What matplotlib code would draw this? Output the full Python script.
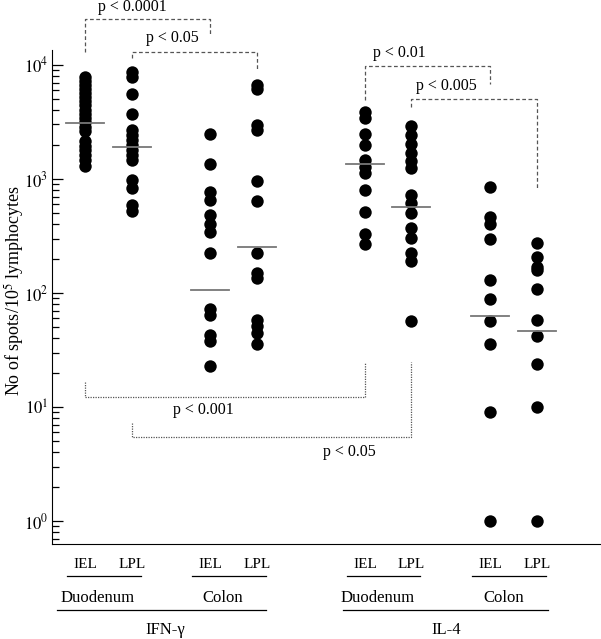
import matplotlib.pyplot as plt
import numpy as np

plt.rcParams['font.family'] = ['Liberation Serif', 'DejaVu Serif']
plt.rcParams['mathtext.fontset'] = 'stix'

# x positions of the eight columns
pos = [1, 2, 3.66, 4.66, 6.96, 7.94, 9.62, 10.62]

ifn_duo_iel = [7850, 7240, 6680, 6160, 5680, 5240, 4830, 4460, 4030, 3720,
               3430, 3160, 2860, 2640, 2150, 1950, 1800, 1620, 1470, 1300]
ifn_duo_lpl = [8730, 7890, 5530, 3700, 2690, 2430, 2200, 1990, 1800, 1620,
               1470, 980, 830, 590, 520]
ifn_col_iel = [2480, 1345, 774, 654, 483, 403, 345, 223, 73, 64, 43, 38, 23]
ifn_col_lpl = [6600, 6200, 2980, 2700, 960, 640, 225, 150, 135, 58, 51, 45, 36]
il4_duo_iel = [3890, 3410, 2470, 1990, 1450, 1270, 1120, 801, 517, 329, 269]
il4_duo_lpl = [2917, 2432, 2028, 1701, 1448, 1241, 724, 612, 500, 370, 302,
               223, 192, 57]
il4_col_iel = [846, 467, 403, 298, 130, 89, 57, 36, 9, 1]
il4_col_lpl = [273, 206, 170, 159, 108, 58, 42, 24, 10, 1]

groups = [ifn_duo_iel, ifn_duo_lpl, ifn_col_iel, ifn_col_lpl,
          il4_duo_iel, il4_duo_lpl, il4_col_iel, il4_col_lpl]
medians = [3080, 1900, 106, 255, 1355, 565, 63, 46]

# brackets: (x1, x2, y_line, y_left_end, y_right_end, label, text x, text y, style)
brackets = [
    (0, 2, 25300, 13000, 17960, 'p < 0.0001', 2.0, 32000, '--'),
    (1, 3, 13000, 11520, 8860, 'p < 0.05', 2.87, 17260, '--'),
    (4, 6, 9800, 4930, 6810, 'p < 0.01', 7.68, 12740, '--'),
    (5, 7, 5030, 4280, 834, 'p < 0.005', 8.68, 6540, '--'),
    (0, 4, 12.2, 16.6, 24.8, 'p < 0.001', 3.51, 9.4, ':'),
    (1, 5, 5.46, 7.24, 24.8, 'p < 0.05', 6.62, 4.03, ':'),
]

fig = plt.figure(figsize=(6.01, 6.39), dpi=100)
ax = fig.add_axes([0.0865, 0.1487, 0.912, 0.7731])

for p, g in zip(pos, groups):
    ax.scatter([p] * len(g), g, s=80, color='black', zorder=3, linewidths=0)

for p, m in zip(pos, medians):
    ax.plot([p - 0.4, p + 0.4], [m, m], color='#777777', lw=1.3, zorder=4)

for x1, x2, yl, ya, yb, lab, tx, ty, ls in brackets:
    xa, xb = pos[x1], pos[x2]
    ax.plot([xa, xa, xb, xb], [ya, yl, yl, yb], color='#555555', lw=0.9,
            ls=(0, (3, 2)) if ls == '--' else (0, (1, 1)), clip_on=False)
    ax.text(tx, ty, lab, ha='center', va='center', fontsize=11.5, clip_on=False)

ax.set_yscale('log')
ax.set_ylim(0.63, 13500)
ax.set_xlim(0.3, 11.96)
ax.spines['top'].set_visible(False)
ax.spines['right'].set_visible(False)
ax.set_xticks([])
ax.set_yticks([1, 10, 100, 1000, 10000])
ax.set_yticklabels([r'$10^0$', r'$10^1$', r'$10^2$', r'$10^3$', r'$10^4$'],
                   fontsize=12)
ax.tick_params(axis='y', which='major', direction='in', length=8, width=0.9,
               pad=2.5)
ax.tick_params(axis='y', which='minor', direction='in', length=5, width=0.9)
fig.text(14 / 601, 1 - 290 / 639, r'No of spots/10$^5$ lymphocytes',
         rotation=90, ha='center', va='center', fontsize=13)

# category labels below the axis
tr = ax.get_xaxis_transform()
sub = ['IEL', 'LPL'] * 4
for p, s in zip(pos, sub):
    ax.text(p, -0.042, s, transform=tr, ha='center', va='center', fontsize=11,
            clip_on=False)
for i in range(0, 8, 2):
    ax.plot([pos[i] - 0.38, pos[i + 1] + 0.19], [-0.065, -0.065], transform=tr,
            color='black', lw=0.9, clip_on=False)

tissues = ['Duodenum', 'Colon', 'Duodenum', 'Colon']
tissue_x = [1.26, 3.94, 7.22, 9.9]
for t, x in zip(tissues, tissue_x):
    ax.text(x, -0.109, t, transform=tr, ha='center', va='center', fontsize=12,
            clip_on=False)
ax.plot([0.4, 4.85], [-0.134, -0.134], transform=tr, color='black', lw=0.9,
        clip_on=False)
ax.plot([6.5, 10.85], [-0.134, -0.134], transform=tr, color='black', lw=0.9,
        clip_on=False)

cytokines = ['IFN-γ', 'IL-4']
cyto_x = [2.72, 8.68]
for c, x in zip(cytokines, cyto_x):
    ax.text(x, -0.174, c, transform=tr, ha='center', va='center', fontsize=12,
            clip_on=False)

fig.savefig('out.png', dpi=100)
